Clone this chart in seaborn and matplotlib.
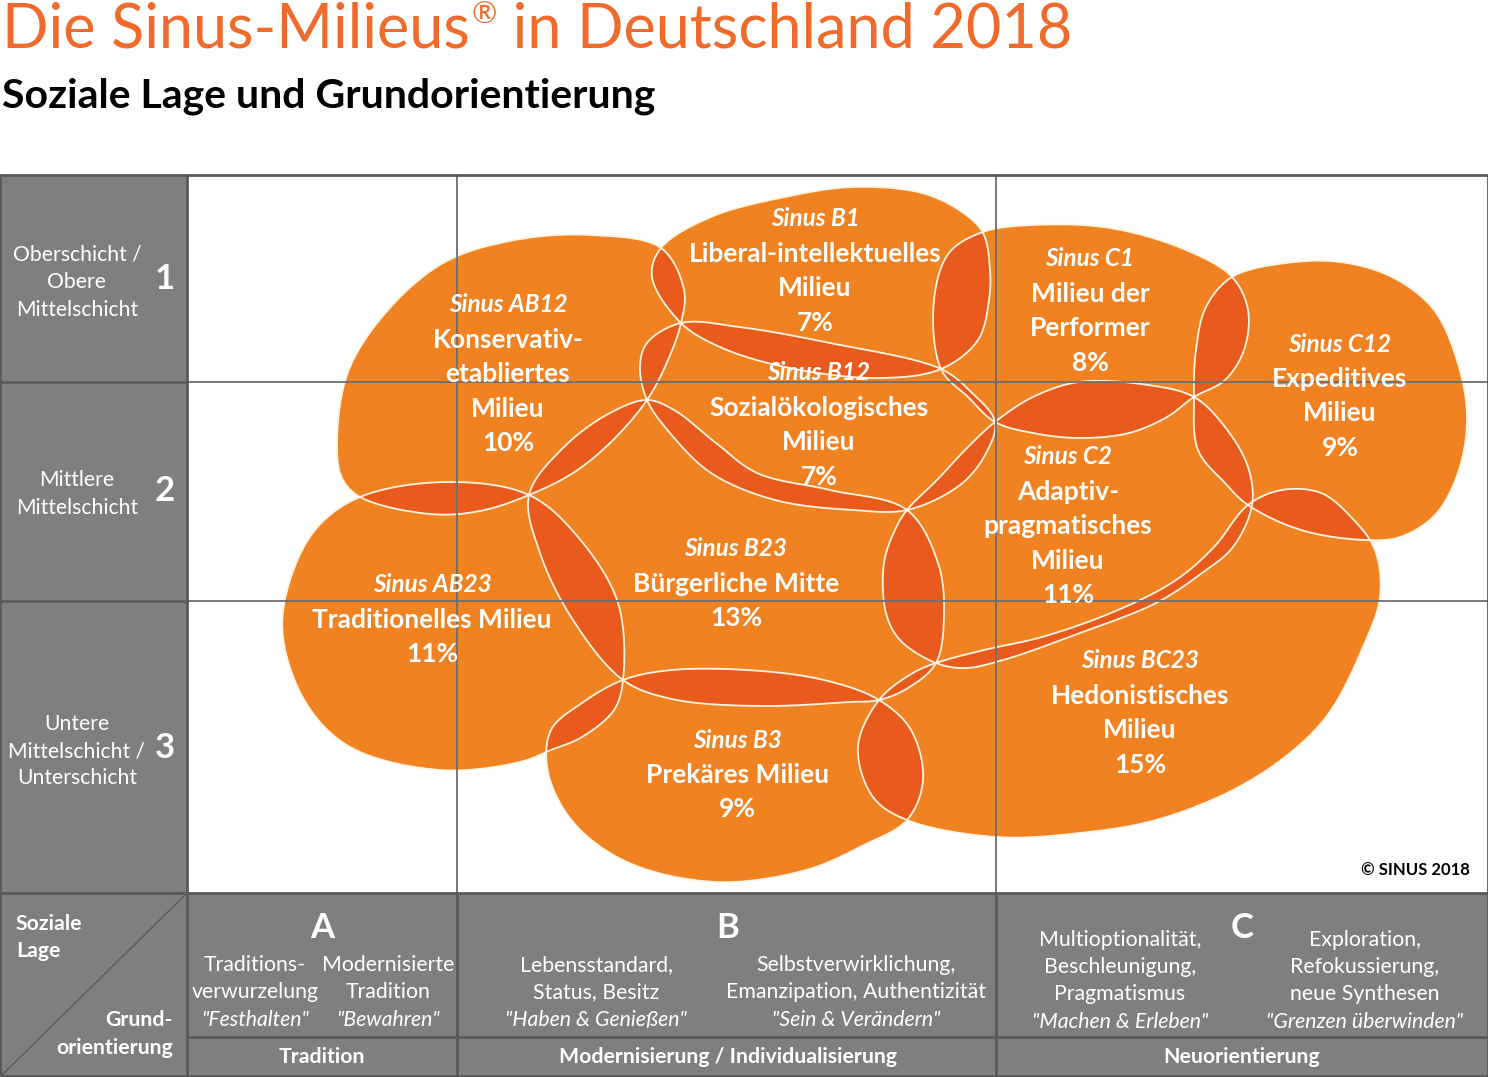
import numpy as np
import matplotlib
matplotlib.use("Agg")
import matplotlib.pyplot as plt
from matplotlib.patches import Polygon, Rectangle
import seaborn as sns

# ---------------- data ----------------
milieu_codes = ["Sinus AB12", "Sinus B1", "Sinus B12", "Sinus C1", "Sinus C12",
                "Sinus C2", "Sinus AB23", "Sinus B23", "Sinus B3", "Sinus BC23"]
milieu_names = [["Konservativ-", "etabliertes", "Milieu"],
                ["Liberal-intellektuelles", "Milieu"],
                ["Sozialökologisches", "Milieu"],
                ["Milieu der", "Performer"],
                ["Expeditives", "Milieu"],
                ["Adaptiv-", "pragmatisches", "Milieu"],
                ["Traditionelles Milieu"],
                ["Bürgerliche Mitte"],
                ["Prekäres Milieu"],
                ["Hedonistisches", "Milieu"]]
milieu_shares = [10, 7, 7, 8, 9, 11, 11, 13, 9, 15]

class_labels = [["Oberschicht /", "Obere", "Mittelschicht"], ["Mittlere", "Mittelschicht"],
                ["Untere", "Mittelschicht /", "Unterschicht"]]
class_numbers = ["1", "2", "3"]

orient_letters = ["A", "B", "C"]
orient_groups = ["Tradition", "Modernisierung / Individualisierung", "Neuorientierung"]
orient_text = [["Traditions-", "verwurzelung"], ["Modernisierte", "Tradition"],
               ["Lebensstandard,", "Status, Besitz"],
               ["Selbstverwirklichung,", "Emanzipation, Authentizität"],
               ["Multioptionalität,", "Beschleunigung,", "Pragmatismus"],
               ["Exploration,", "Refokussierung,", "neue Synthesen"]]
orient_quotes = ['"Festhalten"', '"Bewahren"', '"Haben & Genießen"', '"Sein & Verändern"',
                 '"Machen & Erleben"', '"Grenzen überwinden"']

title_parts = ["Die Sinus-Milieus", "®", " in Deutschland 2018"]
subtitle = "Soziale Lage und Grundorientierung"
copyright_txt = "© SINUS 2018"

# ---------------- geometry (pixel space of the map) ----------------
blob_outlines = [
    # AB12
    [(337, 445), (348, 372), (388, 310), (445, 262), (515, 240), (590, 235), (661, 248),
     (684, 290), (681, 323), (668, 360), (647, 400), (610, 443), (573, 473), (529, 495),
     (480, 511), (430, 514), (360, 497), (342, 478)],
    # B1
    [(681, 323), (652, 277), (661, 248), (711, 217), (785, 197), (853, 187), (922, 193),
     (962, 212), (983, 233), (990, 270), (989, 300), (978, 340), (941, 369), (877, 378),
     (785, 367), (720, 347)],
    # B12
    [(681, 323), (739, 327), (830, 343), (941, 369), (970, 391), (995, 422), (985, 455),
     (960, 485), (907, 510), (853, 510), (775, 500), (711, 473), (670, 433), (647, 400),
     (640, 367), (647, 343)],
    # C1
    [(995, 422), (968, 397), (941, 369), (934, 300), (949, 253), (983, 232), (1033, 225),
     (1110, 228), (1186, 250), (1232, 277), (1248, 310), (1244, 350), (1225, 380),
     (1194, 397), (1167, 417), (1129, 433), (1079, 438), (1033, 433)],
    # C12
    [(1232, 277), (1286, 263), (1340, 262), (1392, 277), (1434, 310), (1459, 367),
     (1467, 420), (1458, 473), (1435, 515), (1400, 537), (1365, 540), (1301, 530),
     (1248, 505), (1225, 483), (1198, 450), (1194, 397), (1196, 350), (1206, 307)],
    # C2
    [(995, 422), (1033, 397), (1079, 382), (1148, 385), (1194, 397), (1225, 427),
     (1248, 467), (1252, 505), (1233, 547), (1202, 573), (1156, 603), (1080, 633),
     (1003, 660), (965, 668), (936, 663), (900, 640), (886, 613), (884, 563), (895, 530),
     (907, 510), (937, 480), (968, 447)],
    # AB23
    [(360, 497), (449, 482), (529, 495), (578, 537), (618, 603), (623, 680), (614, 710),
     (582, 737), (551, 750), (520, 762), (440, 770), (350, 747), (306, 703), (283, 637),
     (288, 587), (315, 530)],
    # B23
    [(529, 495), (564, 447), (610, 413), (647, 400), (674, 410), (716, 443), (757, 473),
     (830, 490), (907, 510), (938, 563), (944, 613), (936, 663), (908, 688), (879, 700),
     (850, 702), (761, 706), (672, 699), (623, 680), (573, 620), (540, 553)],
    # B3
    [(551, 730), (582, 703), (623, 680), (672, 670), (761, 671), (828, 681), (879, 700),
     (911, 730), (923, 780), (907, 820), (864, 845), (806, 870), (716, 882), (627, 862),
     (573, 822), (548, 772)],
    # BC23
    [(1248, 505), (1282, 490), (1321, 493), (1351, 517), (1375, 550), (1380, 597),
     (1363, 647), (1329, 713), (1290, 753), (1233, 790), (1156, 820), (1080, 833),
     (996, 837), (907, 820), (873, 797), (858, 747), (879, 700), (913, 673), (936, 663),
     (984, 650), (1042, 637), (1118, 610), (1176, 580), (1214, 547)],
]
label_anchor = [(508, 305), (815, 219), (819, 373), (1090, 259), (1340, 344),
                (1068, 457), (432, 585), (736, 549), (737, 740), (1140, 661)]
label_step = 34.6

W, H = 1488, 1077
grid_top, grid_bottom, panel_bottom = 175, 893, 1077
col_edges = [187, 457, 996, 1488]
row_edges = [175, 382, 601, 893]
class_center_y = [282, 494, 751]
class_num_y = [279, 491, 748]

BASE = "#F08222"
OVER = "#E85B1C"
EDGE = "#FFF4E2"
GREY = "#7F7F7F"
DARK = "#595959"
TITLE_C = "#EF6A2B"
FONT = ["Lato", "DejaVu Sans"]

sns.set_theme(style="white")
plt.rcParams["font.family"] = FONT

fig = plt.figure(figsize=(W / 100, H / 100), dpi=100)
ax = fig.add_axes([0, 0, 1, 1])
ax.set_xlim(0, W)
ax.set_ylim(H, 0)
ax.axis("off")


def closed_spline(pts, n=16, alpha=0.5):
    """Closed centripetal Catmull-Rom spline through the outline points."""
    P = np.asarray(pts, float)
    N = len(P)
    segs = []
    for i in range(N):
        p0, p1, p2, p3 = P[(i - 1) % N], P[i], P[(i + 1) % N], P[(i + 2) % N]
        t0 = 0.0
        t1 = t0 + np.linalg.norm(p1 - p0) ** alpha
        t2 = t1 + np.linalg.norm(p2 - p1) ** alpha
        t3 = t2 + np.linalg.norm(p3 - p2) ** alpha
        t = np.linspace(t1, t2, n, endpoint=False)[:, None]
        A1 = (t1 - t) / (t1 - t0) * p0 + (t - t0) / (t1 - t0) * p1
        A2 = (t2 - t) / (t2 - t1) * p1 + (t - t1) / (t2 - t1) * p2
        A3 = (t3 - t) / (t3 - t2) * p2 + (t - t2) / (t3 - t2) * p3
        B1 = (t2 - t) / (t2 - t0) * A1 + (t - t0) / (t2 - t0) * A2
        B2 = (t3 - t) / (t3 - t1) * A2 + (t - t1) / (t3 - t1) * A3
        segs.append((t2 - t) / (t2 - t1) * B1 + (t - t1) / (t2 - t1) * B2)
    return np.vstack(segs)


# panels
ax.add_patch(Rectangle((0, grid_top), col_edges[0], grid_bottom - grid_top, fc=GREY, ec="none", zorder=1))
ax.add_patch(Rectangle((0, grid_bottom), W, panel_bottom - grid_bottom, fc=GREY, ec="none", zorder=1))

# blobs
curves = [closed_spline(p) for p in blob_outlines]
bases = []
for c in curves:
    p = Polygon(c, closed=True, fc=BASE, ec="none", zorder=2)
    ax.add_patch(p)
    bases.append(p)
for i in range(len(curves)):
    for j in range(i + 1, len(curves)):
        ov = Polygon(curves[j], closed=True, fc=OVER, ec="none", zorder=3)
        ax.add_patch(ov)
        ov.set_clip_path(bases[i])
for c in curves:
    ax.add_patch(Polygon(c, closed=True, fc="none", ec=EDGE, lw=1.3, zorder=4))

# grid lines in the map area
for x in col_edges[1:3]:
    ax.plot([x, x], [grid_top, grid_bottom], color="#6E6E6E", lw=1.3, zorder=5)
for y in row_edges[1:3]:
    ax.plot([col_edges[0], W], [y, y], color="#6E6E6E", lw=1.3, zorder=5)
    ax.plot([0, col_edges[0]], [y, y], color=DARK, lw=1.8, zorder=5)

# panel borders
lwb = 2.0
ax.plot([0, W, W, 0, 0], [grid_top, grid_top, panel_bottom - 1, panel_bottom - 1, grid_top], color=DARK, lw=lwb, zorder=6)
ax.plot([col_edges[0], col_edges[0]], [grid_top, panel_bottom], color=DARK, lw=lwb, zorder=6)
ax.plot([0, W], [grid_bottom, grid_bottom], color=DARK, lw=lwb, zorder=6)
for x in col_edges[1:3]:
    ax.plot([x, x], [grid_bottom, panel_bottom], color=DARK, lw=lwb, zorder=6)
ax.plot([col_edges[0], W], [1037, 1037], color=DARK, lw=lwb, zorder=6)
ax.plot([2, col_edges[0] - 2], [panel_bottom - 2, grid_bottom + 2], color=DARK, lw=1.0, zorder=6)

# milieu labels
for (x, y0), code, names, share in zip(label_anchor, milieu_codes, milieu_names, milieu_shares):
    ax.text(x, y0, code, ha="center", va="center", color="white", fontsize=17.5,
            fontweight="bold", fontstyle="italic", zorder=7)
    for k, line in enumerate(names + [f"{share}%"]):
        ax.text(x, y0 + label_step * (k + 1), line, ha="center", va="center", color="white",
                fontsize=19, fontweight="bold", zorder=7)

# title (with raised registered sign)
renderer = fig.canvas.get_renderer()
inv = ax.transData.inverted()
t1 = ax.text(2, 30, title_parts[0], ha="left", va="center", color=TITLE_C, fontsize=44, zorder=7)
x_end = inv.transform(t1.get_window_extent(renderer).get_points())[1, 0]
t2 = ax.text(x_end + 2, 15, title_parts[1], ha="left", va="center", color=TITLE_C, fontsize=22, zorder=7)
x_end = inv.transform(t2.get_window_extent(renderer).get_points())[1, 0]
ax.text(x_end, 30, title_parts[2], ha="left", va="center", color=TITLE_C, fontsize=44, zorder=7)
ax.text(2, 96, subtitle, ha="left", va="center", color="black", fontsize=29.5, fontweight="bold", zorder=7)

# social classes
for lines, num, yc, yn in zip(class_labels, class_numbers, class_center_y, class_num_y):
    n = len(lines)
    for k, line in enumerate(lines):
        ax.text(77, yc + (k - (n - 1) / 2) * 27.5, line, ha="center", va="center", color="white",
                fontsize=15.2, zorder=7)
    ax.text(165, yn, num, ha="center", va="center", color="white", fontsize=25,
            fontweight="bold", zorder=7)

# orientation panel
letter_x = [322, 728, 1242]
for lx, letter, grp in zip(letter_x, orient_letters, orient_groups):
    ax.text(lx, 928, letter, ha="center", va="center", color="white", fontsize=25,
            fontweight="bold", zorder=7)
    ax.text(lx, 1057, grp, ha="center", va="center", color="white", fontsize=15.3,
            fontweight="bold", zorder=7)
desc_x = [255, 388, 596, 856, 1120, 1365]
desc_y = [1020, 1020, 1020, 1020, 1022, 1022]
for dx, dy, lines, quote in zip(desc_x, desc_y, orient_text, orient_quotes):
    ax.text(dx, dy, quote, ha="center", va="center", color="white", fontsize=15.3,
            fontstyle="italic", zorder=7)
    for k, line in enumerate(reversed(lines)):
        ax.text(dx, dy - 27.5 * (k + 1), line, ha="center", va="center", color="white",
                fontsize=15.3, zorder=7)

ax.text(16, 924, "Soziale", ha="left", va="center", color="white", fontsize=15.3, fontweight="bold", zorder=7)
ax.text(16, 951, "Lage", ha="left", va="center", color="white", fontsize=15.3, fontweight="bold", zorder=7)
ax.text(173, 1020, "Grund-", ha="right", va="center", color="white", fontsize=15.3, fontweight="bold", zorder=7)
ax.text(173, 1048, "orientierung", ha="right", va="center", color="white", fontsize=15.3, fontweight="bold", zorder=7)

ax.text(1470, 870, copyright_txt, ha="right", va="center", color="black", fontsize=12,
        fontweight="bold", zorder=7)

fig.savefig("out.png", dpi=100)
